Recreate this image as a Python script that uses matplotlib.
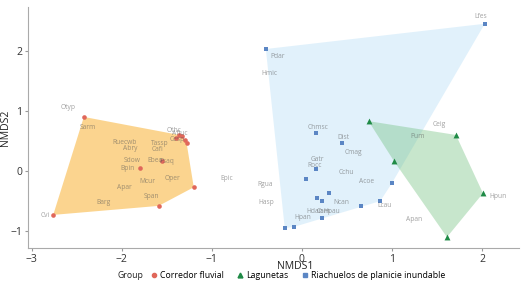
import matplotlib.pyplot as plt
from matplotlib.lines import Line2D

plt.rcParams['font.family'] = ['Open Sans', 'DejaVu Sans']

# site scores (NMDS1, NMDS2) per group
cf_x = [-2.76, -2.42, -1.36, -1.28, -1.20, -1.59, -1.80, -1.55, -1.40, -1.33, -1.30]
cf_y = [-0.73, 0.90, 0.60, 0.47, -0.27, -0.58, 0.05, 0.17, 0.55, 0.58, 0.52]

lg_x = [0.74, 1.71, 1.02, 2.01, 1.61]
lg_y = [0.83, 0.60, 0.17, -0.37, -1.10]

ri_x = [-0.40, 2.03, 0.16, 0.45, 0.05, 0.16, 0.30, 0.17, 0.22, 0.22, -0.19, -0.09, 0.87, 0.66, 1.00]
ri_y = [2.03, 2.45, 0.63, 0.47, -0.13, 0.03, -0.37, -0.45, -0.50, -0.78, -0.95, -0.93, -0.50, -0.58, -0.20]

# species labels
sp_names = ['Otyp', 'Sarm', 'Ruecwb', 'Abry', 'Tassp', 'Cafi', 'Othc', 'Afluc', 'Cesp', 'Sdow', 'Ebea', 'Psaq',
            'Bpin', 'Oper', 'Mcur', 'Apar', 'Span', 'Barg', 'Cvi', 'Epic', 'Rgua', 'Hasp',
            'Pdar', 'Hmic', 'Lfes', 'Chmsc', 'Dist', 'Cmag', 'Gatr', 'Rocc', 'Cchu', 'Acoe', 'Ncan',
            'Lcau', 'Hdan', 'Cam', 'Hpau', 'Hpan', 'Ceig', 'Pum', 'Hpun', 'Apan']
sp_x = [-2.59, -2.38, -1.97, -1.90, -1.58, -1.60, -1.42, -1.36, -1.38, -1.88, -1.63, -1.50,
        -1.94, -1.44, -1.71, -1.97, -1.67, -2.20, -2.85, -0.84, -0.41, -0.40,
        -0.27, -0.36, 1.99, 0.18, 0.46, 0.57, 0.17, 0.14, 0.49, 0.72, 0.44,
        0.92, 0.14, 0.24, 0.33, 0.01, 1.53, 1.28, 2.18, 1.24]
sp_y = [1.05, 0.72, 0.48, 0.38, 0.45, 0.35, 0.68, 0.63, 0.53, 0.17, 0.17, 0.16,
        0.05, -0.12, -0.18, -0.28, -0.43, -0.52, -0.74, -0.12, -0.22, -0.52,
        1.90, 1.63, 2.57, 0.73, 0.55, 0.30, 0.20, 0.10, -0.02, -0.17, -0.52,
        -0.58, -0.68, -0.68, -0.68, -0.77, 0.77, 0.58, -0.43, -0.80]

groups = ['Corredor fluvial', 'Lagunetas', 'Riachuelos de planicie inundable']


def hull(xs, ys):
    pts = sorted(set(zip(xs, ys)))

    def cross(o, a, b):
        return (a[0] - o[0]) * (b[1] - o[1]) - (a[1] - o[1]) * (b[0] - o[0])

    lower = []
    for p in pts:
        while len(lower) >= 2 and cross(lower[-2], lower[-1], p) <= 0:
            lower.pop()
        lower.append(p)
    upper = []
    for p in reversed(pts):
        while len(upper) >= 2 and cross(upper[-2], upper[-1], p) <= 0:
            upper.pop()
        upper.append(p)
    h = lower[:-1] + upper[:-1]
    return [p[0] for p in h], [p[1] for p in h]


fig = plt.figure(figsize=(5.28, 2.89), dpi=100)
ax = fig.add_axes([0.053, 0.142, 0.93, 0.834])

hx, hy = hull(cf_x, cf_y)
ax.fill(hx, hy, color='#F9B233', alpha=0.55, lw=0, zorder=1)
hx, hy = hull(ri_x, ri_y)
ax.fill(hx, hy, color='#A9D8F5', alpha=0.35, lw=0, zorder=1)
hx, hy = hull(lg_x, lg_y)
ax.fill(hx, hy, color='#6DBE7A', alpha=0.38, lw=0, zorder=2)

ax.scatter(cf_x, cf_y, marker='o', s=11, color='#E0675A', zorder=3, lw=0)
ax.scatter(lg_x, lg_y, marker='^', s=18, color='#1F8A46', zorder=3, lw=0)
ax.scatter(ri_x, ri_y, marker='s', s=11, color='#5B86C4', zorder=3, lw=0)

for n, x, y in zip(sp_names, sp_x, sp_y):
    ax.text(x, y, n, fontsize=4.8, color='#555555', alpha=0.55, ha='center', va='center', zorder=4)

ax.set_xlim(-3.04, 2.41)
ax.set_ylim(-1.28, 2.73)
ax.set_xticks([-3, -2, -1, 0, 1, 2])
ax.set_yticks([-1, 0, 1, 2])
ax.tick_params(labelsize=7.5, length=2, color='#999999', labelcolor='#333333', pad=2)
for s in ['top', 'right']:
    ax.spines[s].set_visible(False)
for s in ['left', 'bottom']:
    ax.spines[s].set_color('#aaaaaa')
    ax.spines[s].set_linewidth(0.8)
ax.set_xlabel('NMDS1', fontsize=7.5, color='#222222')
ax.set_ylabel('NMDS2', fontsize=7.5, color='#222222')
ax.xaxis.set_label_coords(0.545, -0.055)
ax.yaxis.set_label_coords(-0.035, 0.5)

handles = [Line2D([], [], marker='o', ls='', color='#E0675A', markersize=3),
           Line2D([], [], marker='^', ls='', color='#1F8A46', markersize=3.5),
           Line2D([], [], marker='s', ls='', color='#5B86C4', markersize=3)]
fig.text(0.222, 0.048, 'Group', fontsize=6.3, color='#222222', ha='left', va='center')
fig.legend(handles, groups, loc='center left', bbox_to_anchor=(0.283, 0.048),
           ncol=3, frameon=False, fontsize=6.3, handletextpad=0.25, borderaxespad=0, borderpad=0,
           columnspacing=1.3, handlelength=1.0)

fig.savefig('out.png', dpi=100)
